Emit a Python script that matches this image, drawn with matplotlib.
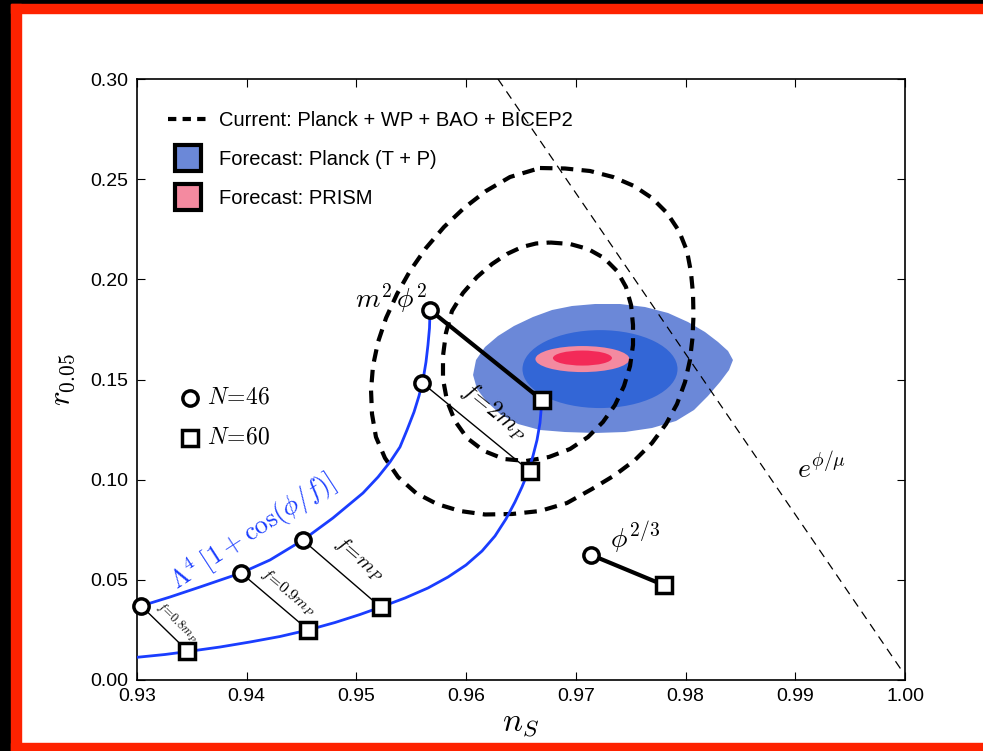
import matplotlib
matplotlib.use('Agg')
import matplotlib.pyplot as plt
from matplotlib.patches import Ellipse, Polygon, Rectangle
from matplotlib.lines import Line2D
from matplotlib.ticker import FormatStrFormatter

plt.rcParams['font.family'] = ['Liberation Sans', 'DejaVu Sans']
plt.rcParams['mathtext.fontset'] = 'cm'

# current constraints (thick dashed contours)
outer_x = [0.96673, 0.96901, 0.97129, 0.97339, 0.97530, 0.97694, 0.97831, 0.97940, 0.98013, 0.98049,
           0.98068, 0.98072, 0.98063, 0.98040, 0.97995, 0.97922, 0.97822, 0.97694, 0.97539, 0.97357,
           0.97147, 0.96919, 0.96673, 0.96418, 0.96172, 0.95944, 0.95734, 0.95543, 0.95379, 0.95260,
           0.95178, 0.95142, 0.95133, 0.95151, 0.95197, 0.95270, 0.95370, 0.95488, 0.95634, 0.95798,
           0.95981, 0.96181, 0.96400, 0.96673]
outer_y = [0.25557, 0.25533, 0.25408, 0.25108, 0.24659, 0.24060, 0.23311, 0.22413, 0.21414, 0.20366,
           0.19268, 0.18170, 0.17072, 0.15973, 0.14875, 0.13777, 0.12779, 0.11830, 0.10982, 0.10233,
           0.09534, 0.08835, 0.08436, 0.08286, 0.08261, 0.08436, 0.08785, 0.09334, 0.10133, 0.11082,
           0.12130, 0.13278, 0.14476, 0.15674, 0.16872, 0.18070, 0.19268, 0.20416, 0.21564, 0.22612,
           0.23561, 0.24409, 0.25108, 0.25557]
inner_x = [0.96764, 0.96947, 0.97111, 0.97257, 0.97375, 0.97457, 0.97503, 0.97521, 0.97521, 0.97494,
           0.97439, 0.97357, 0.97247, 0.97111, 0.96947, 0.96755, 0.96546, 0.96345, 0.96163, 0.96008,
           0.95898, 0.95826, 0.95789, 0.95789, 0.95816, 0.95871, 0.95971, 0.96099, 0.96236, 0.96372,
           0.96509, 0.96637, 0.96764]
inner_y = [0.21839, 0.21764, 0.21514, 0.21065, 0.20416, 0.19617, 0.18719, 0.17721, 0.16722, 0.15674,
           0.14676, 0.13727, 0.12879, 0.12130, 0.11531, 0.11132, 0.10932, 0.11032, 0.11431, 0.12080,
           0.12929, 0.13927, 0.15025, 0.16173, 0.17321, 0.18419, 0.19318, 0.20117, 0.20765, 0.21265,
           0.21614, 0.21789, 0.21839]

# Planck forecast outer region
planck_x = [0.96063, 0.96090, 0.96172, 0.96290, 0.96436, 0.96609, 0.96783, 0.96965, 0.97175, 0.97402,
            0.97630, 0.97840, 0.98022, 0.98177, 0.98296, 0.98387, 0.98432, 0.98396, 0.98314, 0.98204,
            0.98077, 0.97913, 0.97694, 0.97448, 0.97175, 0.96901, 0.96673, 0.96473, 0.96309, 0.96181,
            0.96099]
planck_y = [0.15225, 0.15973, 0.16622, 0.17171, 0.17671, 0.18120, 0.18469, 0.18669, 0.18769, 0.18769,
            0.18619, 0.18320, 0.17870, 0.17371, 0.16872, 0.16423, 0.15973, 0.15474, 0.14875, 0.14176,
            0.13478, 0.12929, 0.12579, 0.12379, 0.12330, 0.12379, 0.12479, 0.12779, 0.13278, 0.13927,
            0.14526]
# (center x, center y, width, height)
planck_inner = (0.9722, 0.1552, 0.01413, 0.0389)
prism_outer = (0.9706, 0.1602, 0.00857, 0.0130)
prism_inner = (0.9706, 0.1607, 0.00538, 0.0075)

# natural inflation curves (N=46 upper, N=60 lower)
up_x = [0.93000, 0.93036, 0.93301, 0.93574, 0.93948, 0.94212, 0.94513, 0.94786, 0.95060, 0.95197,
        0.95306, 0.95397, 0.95461, 0.95525, 0.95570, 0.95607, 0.95634, 0.95652, 0.95666, 0.95671]
up_y = [0.03629, 0.03694, 0.04143, 0.04642, 0.05341, 0.05990, 0.06988, 0.08087, 0.09334, 0.10133,
        0.10882, 0.11631, 0.12479, 0.13378, 0.14176, 0.14975, 0.15874, 0.16722, 0.17571, 0.18469]
lo_x = [0.93000, 0.93255, 0.93465, 0.93757, 0.94030, 0.94303, 0.94559, 0.94805, 0.95033, 0.95224,
        0.95443, 0.95652, 0.95835, 0.95999, 0.96145, 0.96263, 0.96363, 0.96445, 0.96509, 0.96564,
        0.96609, 0.96646, 0.96673, 0.96691]
lo_y = [0.01133, 0.01273, 0.01423, 0.01647, 0.01897, 0.02171, 0.02496, 0.02870, 0.03270, 0.03644,
        0.04093, 0.04592, 0.05141, 0.05740, 0.06439, 0.07188, 0.08037, 0.08885, 0.09634, 0.10383,
        0.11181, 0.11980, 0.12829, 0.13977]

# N=46 (circles) and N=60 (squares) points for f = 0.8, 0.9, 1, 2 mP
n46_x = [0.9304, 0.9395, 0.9451, 0.9560]
n46_y = [0.0369, 0.0534, 0.0699, 0.1483]
n60_x = [0.9346, 0.9456, 0.9522, 0.9658]
n60_y = [0.0145, 0.0250, 0.0364, 0.1043]
f_labels = [r'$f\!=\!0.8m_P$', r'$f\!=\!0.9m_P$', r'$f\!=\!m_P$', r'$f\!=\!2m_P$']

# m^2 phi^2 and phi^(2/3)
quad_x = [0.9567, 0.9669]
quad_y = [0.1847, 0.1398]
p23_x = [0.9714, 0.9780]
p23_y = [0.0624, 0.0474]

# exponential potential line
exp_x = [0.9629, 0.9998]
exp_y = [0.30, 0.004]

light_blue = '#6b88d8'
dark_blue = '#3366d6'
pink = '#f48aa0'
red = '#f32a58'
curve_blue = '#1a3dff'

fig = plt.figure(figsize=(9.83, 7.51), dpi=100, facecolor='white')
W, H = 983.0, 751.0
# screenshot frame
fig.patches.append(Rectangle((0, 0), 10 / W, 1, color='black', transform=fig.transFigure, zorder=-5))
fig.patches.append(Rectangle((0, 1 - 3 / H), 1, 3 / H, color='black', transform=fig.transFigure, zorder=-5))
fig.patches.append(Rectangle((11 / W, 0), 10 / W, 1 - 4 / H, color='#fe2200', transform=fig.transFigure, zorder=-4))
fig.patches.append(Rectangle((11 / W, 1 - 13 / H), 1 - 11 / W, 9 / H, color='#fe2200', transform=fig.transFigure, zorder=-4))
fig.patches.append(Rectangle((11 / W, 0), 1 - 11 / W, 8 / H, color='#fe2200', transform=fig.transFigure, zorder=-4))

ax = fig.add_axes([137 / W, 1 - 680 / H, 768 / W, 601 / H])

ax.add_patch(Polygon(list(zip(planck_x, planck_y)), closed=True, facecolor=light_blue, edgecolor='none', zorder=1))
for (cx, cy, w, h), col in [(planck_inner, dark_blue), (prism_outer, pink), (prism_inner, red)]:
    ax.add_patch(Ellipse((cx, cy), w, h, facecolor=col, edgecolor='none', zorder=1))

ax.plot(outer_x, outer_y, color='black', lw=3, dashes=(3, 2), zorder=2)
ax.plot(inner_x, inner_y, color='black', lw=3, dashes=(3, 2), zorder=2)
ax.plot(exp_x, exp_y, color='black', lw=0.9, dashes=(7, 5), zorder=2)

ax.plot(up_x, up_y, color=curve_blue, lw=2, zorder=3)
ax.plot(lo_x, lo_y, color=curve_blue, lw=2, zorder=3)

for i in range(len(n46_x)):
    ax.plot([n46_x[i], n60_x[i]], [n46_y[i], n60_y[i]], color='black', lw=1, zorder=3)

ax.plot(quad_x, quad_y, color='black', lw=3, zorder=4)
ax.plot(p23_x, p23_y, color='black', lw=3, zorder=4)

circ = dict(marker='o', ms=11, mfc='white', mec='black', mew=2.5, ls='none', zorder=6, clip_on=False)
sq = dict(marker='s', ms=12, mfc='white', mec='black', mew=2.5, ls='none', zorder=6, clip_on=False)
ax.plot(n46_x + [quad_x[0], p23_x[0]], n46_y + [quad_y[0], p23_y[0]], **circ)
ax.plot(n60_x + [quad_x[1], p23_x[1]], n60_y + [quad_y[1], p23_y[1]], **sq)

# labels on the plot
ax.text(0.9532, 0.1907, r'$m^2\,\phi^2$', fontsize=20, ha='center', va='center')
ax.text(0.9754, 0.0709, r'$\phi^{2/3}$', fontsize=20, ha='center', va='center')
ax.text(0.9924, 0.1058, r'$e^{\phi/\mu}$', fontsize=20, ha='center', va='center')
ax.text(0.9406, 0.0740, r'$\Lambda^4\;[1+\cos(\phi/f)]$', fontsize=19, color=curve_blue,
        rotation=33, ha='center', va='center')
f_pos = [(0.9337, 0.0288, 9, -44), (0.9438, 0.0440, 11.5, -40), (0.9503, 0.0602, 15, -41), (0.9626, 0.1340, 17, -39)]
for lab, (tx, ty, fs, rot) in zip(f_labels, f_pos):
    ax.text(tx, ty, lab, fontsize=fs, rotation=rot, ha='center', va='center', rotation_mode='anchor')

# N legend
ax.plot([0.9348], [0.1408], **circ)
ax.plot([0.9348], [0.1208], **sq)
ax.text(0.9364, 0.1408, r'$N\!=\!46$', fontsize=17, va='center')
ax.text(0.9364, 0.1208, r'$N\!=\!60$', fontsize=17, va='center')

handles = [
    Line2D([], [], color='black', lw=3, dashes=(2, 1.5)),
    Line2D([], [], marker='s', ms=19, mfc=light_blue, mec='black', mew=3, ls='none'),
    Line2D([], [], marker='s', ms=19, mfc=pink, mec='black', mew=3, ls='none'),
]
labels = ['Current: Planck + WP + BAO + BICEP2', 'Forecast: Planck (T + P)', 'Forecast: PRISM']
ax.legend(handles, labels, loc='upper left', bbox_to_anchor=(0.040, 0.947), frameon=False,
          fontsize=14.5, handlelength=2.0, handletextpad=0.55, labelspacing=1.0,
          borderpad=0, borderaxespad=0)

ax.set_xlim(0.93, 1.00)
ax.set_ylim(0.0, 0.30)
ax.set_xticks([0.93, 0.94, 0.95, 0.96, 0.97, 0.98, 0.99, 1.00])
ax.set_yticks([0.0, 0.05, 0.10, 0.15, 0.20, 0.25, 0.30])
ax.xaxis.set_major_formatter(FormatStrFormatter('%.2f'))
ax.yaxis.set_major_formatter(FormatStrFormatter('%.2f'))
ax.tick_params(direction='in', length=6, top=True, right=True, labelsize=14, pad=6)
for s in ax.spines.values():
    s.set_linewidth(1.2)

ax.set_xlabel(r'$n_S$', fontsize=24, labelpad=2)
ax.set_ylabel(r'$r_{0.05}$', fontsize=22, labelpad=10)

fig.savefig('out.png', dpi=100, facecolor='white')
